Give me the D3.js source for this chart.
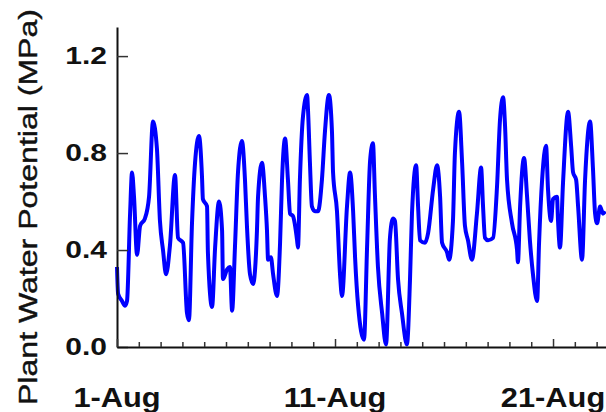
<!DOCTYPE html>
<html>
<head>
<meta charset="utf-8">
<script src="https://cdn.jsdelivr.net/npm/d3@7"></script>
<style>
  html, body { margin: 0; padding: 0; background: #fff; }
  .chart { width: 606px; height: 412px; overflow: hidden; }
</style>
</head>
<body>
<div class="chart"></div>
<script>
// Days after 1-Aug 00:00
const days = [
	0.00,0.05,0.23,0.37,0.46,0.60,0.69,0.78,0.92,1.06,
	1.28,1.47,1.65,1.83,1.97,2.11,2.25,2.43,2.66,2.80,
	3.03,3.21,3.30,3.44,3.58,3.76,3.90,3.94,4.13,4.17,
	4.36,4.50,4.68,4.82,4.86,5.05,5.18,5.28,5.41,5.55,
	5.73,5.87,5.96,6.10,6.24,6.42,6.47,6.65,6.79,6.88,
	6.93,7.06,7.16,7.34,7.48,7.57,7.71,7.84,7.94,8.07,
	8.26,8.30,8.39,8.53,8.72,8.76,8.85,8.94,9.08,9.22,
	9.40,9.54,9.72,9.86,9.91,10.09,10.23,10.32,10.55,10.69,
	10.83,10.92,11.06,11.33,11.47,11.61,11.74,11.83,11.97,12.16,
	12.34,12.52,12.66,12.75,12.89,13.07,13.30,13.44,13.53,13.72,
	13.81,13.90,14.13,14.27,14.50,14.68,14.82,14.91,15.14,15.23,
	15.41,15.50,15.69,15.83,15.96,16.10,16.28,16.51,16.70,16.79,
	16.88,17.02,17.25,17.43,17.57,17.71,17.80,17.89,18.12,18.35,
	18.39,18.49,18.67,18.81,18.94,19.08,19.27,19.36,19.50,19.68,
	19.77,19.91,20.00,20.18,20.23,20.32,20.46,20.69,20.83,20.92,
	21.06,21.15,21.33,21.47,21.70,21.83,21.93,22.02,22.16,22.29,
	22.39
];

// Plant water potential (MPa)
const potential = [
	0.33,0.22,0.19,0.17,0.19,0.55,0.72,0.62,0.38,0.50,
	0.53,0.62,0.93,0.82,0.52,0.40,0.30,0.42,0.71,0.45,
	0.43,0.14,0.11,0.51,0.76,0.87,0.70,0.61,0.58,0.39,
	0.165,0.41,0.60,0.48,0.28,0.32,0.33,0.15,0.41,0.72,
	0.85,0.69,0.50,0.30,0.26,0.48,0.62,0.76,0.62,0.48,
	0.36,0.37,0.30,0.21,0.43,0.69,0.86,0.69,0.55,0.54,
	0.44,0.41,0.69,0.95,1.04,0.98,0.76,0.58,0.56,0.56,
	0.69,0.89,1.04,0.89,0.72,0.56,0.30,0.21,0.58,0.72,
	0.56,0.37,0.17,0.03,0.41,0.77,0.84,0.63,0.33,0.14,
	0.01,0.45,0.53,0.52,0.28,0.14,0.01,0.28,0.55,0.75,
	0.58,0.44,0.43,0.47,0.65,0.75,0.62,0.43,0.39,0.36,
	0.52,0.80,0.97,0.76,0.50,0.44,0.36,0.55,0.74,0.58,
	0.45,0.44,0.45,0.66,0.94,1.03,0.91,0.69,0.51,0.40,
	0.35,0.58,0.78,0.62,0.44,0.30,0.19,0.43,0.69,0.83,
	0.65,0.52,0.61,0.62,0.52,0.41,0.68,0.97,0.83,0.72,
	0.69,0.58,0.36,0.69,0.93,0.74,0.55,0.51,0.58,0.55,
	0.56
];

const yTicks = [0, 0.4, 0.8, 1.2];
const xLabelDays = [0, 10, 20];
const xLabels = ['1-Aug', '11-Aug', '21-Aug'];
const dayTicks = d3.range(0, 23);

// ----------------------------------
// SIZES + SCALES
// ----------------------------------
const width = 606, height = 412,
	margin = { top: 27, right: 0, bottom: 65, left: 117 },
	innerWidth = width - margin.left - margin.right,
	innerHeight = height - margin.top - margin.bottom;

const xScale = d3.scaleLinear()
	.domain([0, 22.43])
	.range([0, innerWidth]);

const yScale = d3.scaleLinear()
	.domain([0, 1.32])
	.range([innerHeight, 0]);

const svg = d3.select('.chart')
	.append('svg')
	.attr('width', width)
	.attr('height', height);

const chartInner = svg.append('g')
	.attr('transform', `translate(${margin.left},${margin.top})`);

// ----------------------------------
// THE LINE
// ----------------------------------
const line = d3.line()
	.x(d => xScale(d[0]))
	.y(d => yScale(d[1]))
	.curve(d3.curveMonotoneX);

chartInner.append('path')
	.datum(d3.zip(days, potential))
	.attr('d', line)
	.attr('fill', 'none')
	.attr('stroke', '#0000ff')
	.attr('stroke-width', 4)
	.attr('stroke-linejoin', 'round');

// ----------------------------------
// AXES
// ----------------------------------
const yAxis = d3.axisLeft(yScale)
	.tickValues(yTicks)
	.tickFormat(d3.format('.1f'))
	.tickSizeInner(-11)
	.tickSizeOuter(0)
	.tickPadding(10);

const yG = chartInner.append('g')
	.attr('class', 'y axis')
	.call(yAxis);

yG.select('.domain').attr('stroke', '#111').attr('stroke-width', 2);
yG.selectAll('.tick line').attr('stroke', '#333').attr('stroke-width', 1.5);
yG.selectAll('.tick text')
	.style('font-family', '"Liberation Sans", Arial, sans-serif')
	.style('font-weight', 'bold')
	.style('font-size', '24px')
	.attr('fill', '#111');

const xAxis = d3.axisBottom(xScale)
	.tickValues(dayTicks)
	.tickFormat('')
	.tickSizeInner(-5)
	.tickSizeOuter(0);

const xG = chartInner.append('g')
	.attr('class', 'x axis')
	.attr('transform', `translate(0,${innerHeight})`)
	.call(xAxis);

xG.select('.domain').attr('stroke', '#111').attr('stroke-width', 2);
xG.selectAll('.tick line')
	.attr('stroke', '#333')
	.attr('stroke-width', 1.5)
	.attr('y2', d => xLabelDays.includes(d) ? -8 : -5);

// day labels under the axis
chartInner.append('g')
	.selectAll('text')
	.data(xLabels)
	.join('text')
	.attr('class', 'x-label')
	.attr('x', (d, i) => xScale(xLabelDays[i]))
	.attr('y', innerHeight + 60)
	.attr('text-anchor', 'middle')
	.style('font-family', '"Liberation Sans", Arial, sans-serif')
	.style('font-weight', 'bold')
	.style('font-size', '28px')
	.attr('fill', '#111')
	.text(d => d);

// y title
svg.append('text')
	.attr('class', 'y-title')
	.attr('transform', 'translate(37,207) rotate(-90)')
	.attr('text-anchor', 'middle')
	.attr('textLength', 396)
	.attr('lengthAdjust', 'spacingAndGlyphs')
	.style('font-family', '"Liberation Sans", Arial, sans-serif')
	.style('font-size', '26px')
	.style('stroke', '#111')
	.style('stroke-width', 0.4)
	.attr('fill', '#111')
	.text('Plant Water Potential (MPa)');

// widen the text like in the reference
yG.selectAll('.tick text').each(function() {
	d3.select(this)
		.attr('textLength', this.getComputedTextLength() * 1.25)
		.attr('lengthAdjust', 'spacingAndGlyphs');
});
svg.selectAll('.x-label').each(function() {
	d3.select(this)
		.attr('textLength', this.getComputedTextLength() * 1.1)
		.attr('lengthAdjust', 'spacingAndGlyphs');
});
</script>
</body>
</html>
